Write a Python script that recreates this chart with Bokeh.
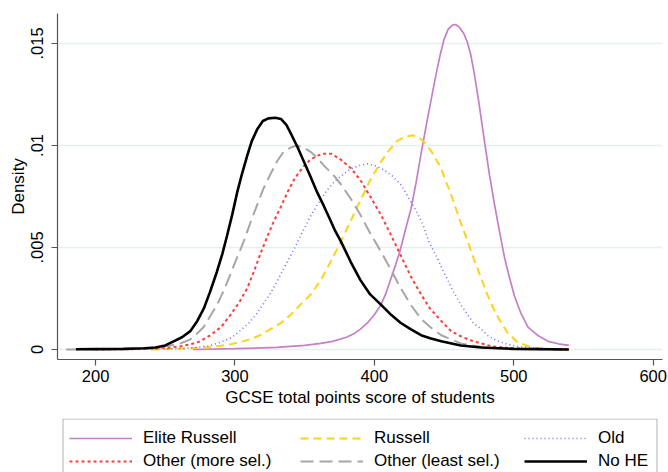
from bokeh.plotting import figure
from bokeh.layouts import column
from bokeh.models import Legend, LegendItem, FixedTicker, Range1d, BoxAnnotation
from bokeh.embed import file_html
from bokeh.resources import INLINE

# ---- data (GCSE score, density) ----
elite_x = [270, 300, 330, 350, 361.5, 370, 380, 386, 390, 395, 400, 404.7, 408, 411, 414.5, 418.3, 422,
           426.3, 430, 433.5, 437, 440.6, 444, 447.4, 450, 453, 456, 458.2, 461, 464, 466.5, 469, 471.5,
           475, 479, 482.5, 486.2, 490, 493.4, 497, 500.6, 505, 510.2, 517, 524.6, 532, 539.5]
elite_y = [0.0, 0.00004, 0.0001, 0.0002, 0.0003, 0.0004, 0.0006, 0.0008, 0.0010, 0.0013, 0.0017, 0.0022,
           0.0027, 0.0033, 0.0040, 0.0048, 0.0058, 0.0069, 0.0082, 0.0096, 0.0109, 0.0122, 0.0134, 0.0145,
           0.0152, 0.0157, 0.0159, 0.01593, 0.0158, 0.0155, 0.0151, 0.0145, 0.0136, 0.0121, 0.0102, 0.0086,
           0.0071, 0.0057, 0.0045, 0.0035, 0.0026, 0.0018, 0.0011, 0.0007, 0.0004, 0.00028, 0.0002]

russell_x = [240, 265, 279.5, 290, 296.8, 304, 311, 318, 325.5, 333, 340, 347, 354.4, 361.5, 368.7, 376,
             383, 390, 397, 404.7, 411, 416, 421, 427.5, 432, 436.7, 441, 447.8, 451, 455, 458.5, 462, 467,
             471, 476.6, 481, 486.2, 491, 495.8, 502, 510, 520, 539.5]
russell_y = [0.0, 0.00005, 0.0001, 0.00018, 0.00025, 0.00037, 0.0005, 0.0007, 0.0010, 0.0013, 0.0017,
             0.0022, 0.0027, 0.0034, 0.0043, 0.0053, 0.0063, 0.0073, 0.0083, 0.0092, 0.0098, 0.0102, 0.0104,
             0.0105, 0.0104, 0.0101, 0.0097, 0.0089, 0.0083, 0.0076, 0.0069, 0.0062, 0.0053, 0.0045, 0.0035,
             0.0027, 0.0019, 0.0013, 0.0008, 0.0004, 0.00016, 0.00005, 0.0]

old_x = [220, 250, 265, 272, 280, 285, 290, 295, 300, 305, 310, 315, 320, 325, 330, 336, 343, 348, 354,
         360, 366, 371, 376, 382, 388, 395, 401, 407, 413, 418.8, 424, 430, 435, 439, 445, 449, 452.7, 457,
         462, 467, 471, 476.6, 481, 486, 491, 496, 503, 510, 525, 539.5]
old_y = [0.0, 0.00003, 0.00006, 0.0001, 0.00016, 0.00025, 0.00037, 0.0005, 0.0007, 0.0010, 0.0013, 0.0017,
         0.0022, 0.0027, 0.0033, 0.0041, 0.0050, 0.0057, 0.0065, 0.0072, 0.0078, 0.0082, 0.0085, 0.0088,
         0.0090, 0.0091, 0.0090, 0.0088, 0.0085, 0.0081, 0.0075, 0.0068, 0.0061, 0.0053, 0.0045, 0.0039,
         0.0034, 0.0028, 0.0022, 0.0017, 0.0013, 0.0010, 0.0007, 0.0005, 0.00035, 0.00025, 0.00015, 0.0001,
         0.00003, 0.0]

more_x = [200, 230, 245, 253.6, 261, 268, 275, 282.4, 290, 296.8, 303, 308.8, 313.5, 318.3, 323, 328, 333,
          337.6, 343, 349.5, 354, 359, 364, 369, 376, 383, 390, 397, 404.7, 412, 419, 426, 433.5, 440, 448,
          455, 462, 469, 476.6, 484, 500, 539.5]
more_y = [0.0, 0.00002, 0.00006, 0.0001, 0.00016, 0.00025, 0.0004, 0.0007, 0.0011, 0.0017, 0.0023, 0.0030,
          0.0038, 0.0047, 0.0055, 0.0063, 0.0070, 0.0077, 0.0084, 0.0090, 0.0093, 0.0095, 0.0096, 0.0096,
          0.0093, 0.0089, 0.0083, 0.0075, 0.0066, 0.0056, 0.0046, 0.0036, 0.0027, 0.0020, 0.0014, 0.0009,
          0.00065, 0.00045, 0.0003, 0.00016, 0.00005, 0.0]

least_x = [179, 200, 230, 245, 253.6, 261, 268, 273, 277.6, 282, 287.2, 292, 296.8, 301.5, 306.3, 311, 316,
           320.5, 325.5, 330, 335, 340, 344.7, 349, 354, 359, 364, 370, 376, 383, 390, 397, 404.7, 412, 419,
           426, 433.5, 440, 448, 455, 462, 470, 480, 500, 539.5]
least_y = [0.0, 0.00001, 0.00003, 0.0001, 0.0002, 0.0003, 0.0005, 0.0008, 0.0011, 0.0016, 0.0022, 0.0029,
           0.0037, 0.0045, 0.0053, 0.0062, 0.0071, 0.0079, 0.0086, 0.0092, 0.0097, 0.0099, 0.0100, 0.0099,
           0.0097, 0.0094, 0.0090, 0.0086, 0.0081, 0.0074, 0.0066, 0.0057, 0.0048, 0.0039, 0.0030, 0.0022,
           0.0015, 0.0011, 0.0007, 0.0005, 0.0003, 0.0002, 0.0001, 0.00003, 0.0]

nohe_x = [186, 200, 220, 235, 243, 250, 256, 262, 268, 273, 277.6, 282, 287, 291, 294.4, 298, 301.6, 305,
          308.8, 312, 316, 320, 324, 329, 333, 337, 340, 345, 349.5, 354, 359, 364, 368.7, 372, 376, 383,
          390, 397, 404.7, 412, 419, 426, 433.5, 440, 448, 462, 476.6, 500, 539.5]
nohe_y = [0.00001, 0.00002, 0.00003, 0.00006, 0.0001, 0.0002, 0.0004, 0.0006, 0.0009, 0.0014, 0.0020,
          0.0028, 0.0038, 0.0047, 0.0056, 0.0066, 0.0077, 0.0086, 0.0095, 0.0102, 0.0108, 0.0112, 0.01133,
          0.01136, 0.0113, 0.0110, 0.0106, 0.0099, 0.0092, 0.0085, 0.0077, 0.0070, 0.0063, 0.0058, 0.0053,
          0.0043, 0.0034, 0.0027, 0.0022, 0.0017, 0.0013, 0.0010, 0.0007, 0.00055, 0.0004, 0.0002, 0.0001,
          0.00003, 0.0]

labels = ["Elite Russell", "Russell", "Old", "Other (more sel.)", "Other (least sel.)", "No HE"]
x_ticks = [200, 300, 400, 500, 600]
y_ticks = [0, 0.005, 0.01, 0.015]
y_tick_labels = ["0", ".005", ".01", ".015"]

FONT = "Liberation Sans"

styles = [
    dict(line_color="#c47fc8", line_width=1.7, line_dash="solid"),
    dict(line_color="#ffd21a", line_width=2, line_dash="8 5"),
    dict(line_color="#6e6eff", line_width=1.6, line_dash="1 3"),
    dict(line_color="#ff3c3c", line_width=2, line_dash="3 3"),
    dict(line_color="#a6a6a6", line_width=2, line_dash="13 6"),
    dict(line_color="#000000", line_width=2.6, line_dash="solid"),
]
series = [(elite_x, elite_y), (russell_x, russell_y), (old_x, old_y),
          (more_x, more_y), (least_x, least_y), (nohe_x, nohe_y)]

p = figure(width=668, height=418, output_backend="svg", toolbar_location=None,
           x_range=Range1d(172.7, 606.7), y_range=Range1d(-0.00049, 0.016469),
           min_border_left=57, min_border_right=6, min_border_top=13, min_border_bottom=59,
           x_axis_label="GCSE total points score of students", y_axis_label="Density")
p.outline_line_color = None
p.background_fill_color = "white"
p.border_fill_color = "white"

for (xs, ys), st in zip(series, styles):
    p.line(xs, ys, **st)

for ax in (p.xaxis[0], p.yaxis[0]):
    ax.axis_line_color = "#555555"
    ax.axis_line_width = 1.2
    ax.major_tick_line_color = "#555555"
    ax.major_tick_line_width = 1.2
    ax.major_tick_out = 6
    ax.major_tick_in = 0
    ax.minor_tick_line_color = None
    ax.major_label_text_font = FONT
    ax.major_label_text_font_size = "16.5px"
    ax.major_label_text_color = "black"
    ax.axis_label_text_font = FONT
    ax.axis_label_text_font_size = "17px"
    ax.axis_label_text_font_style = "normal"
    ax.axis_label_text_color = "black"

p.xaxis[0].ticker = FixedTicker(ticks=x_ticks)
p.xaxis[0].major_label_standoff = 4
p.xaxis[0].axis_label_standoff = 3
p.yaxis[0].ticker = FixedTicker(ticks=y_ticks)
p.yaxis[0].major_label_overrides = {t: l for t, l in zip(y_ticks, y_tick_labels)}
p.yaxis[0].major_label_orientation = "vertical"
p.yaxis[0].major_label_standoff = 8
p.yaxis[0].axis_label_standoff = 1

p.xgrid.grid_line_color = None
p.ygrid.grid_line_color = "#e6eef0"
p.ygrid.grid_line_width = 1.5
p.ygrid.ticker = FixedTicker(ticks=y_ticks)

# legend strip below the plot (frame lines up with the plot's frame: 605 x 54 px).
# Its x range lies left of every series, so the key renderers themselves stay hidden.
q = figure(width=668, height=54, output_backend="svg", toolbar_location=None, title=None,
           x_range=Range1d(-605, 0), y_range=Range1d(54, 0),
           min_border_left=0, min_border_right=0, min_border_top=0, min_border_bottom=0,
           x_axis_type=None, y_axis_type=None)
q.outline_line_color = None
q.xgrid.grid_line_color = None
q.ygrid.grid_line_color = None
q.background_fill_color = "white"
q.border_fill_color = "white"
keys = [q.line(xs, ys, **st) for (xs, ys), st in zip(series, styles)]

# legend frame (kept inside the strip; its bottom edge sits on the page's bottom edge)
q.add_layout(BoxAnnotation(left=-599.5, right=-5.5, top=0.5, bottom=54,
                           fill_alpha=0, line_color="black", line_width=1))

# three legend columns (rows read as in the reference)
columns_items = [[0, 3], [1, 4], [2, 5]]
column_x = [12, 243, 467]
for idx, vx in zip(columns_items, column_x):
    lg = Legend(items=[LegendItem(label=labels[i], renderers=[keys[i]]) for i in idx],
                location=(vx, 0))
    lg.label_text_font = FONT
    lg.label_text_font_size = "17px"
    lg.label_text_color = "black"
    lg.glyph_width = 63
    lg.glyph_height = 22
    lg.label_height = 22
    lg.label_width = 0
    lg.label_standoff = 11
    lg.spacing = 1
    lg.padding = 0
    lg.margin = 0
    lg.border_line_color = None
    lg.background_fill_alpha = 0
    q.add_layout(lg, "center")

layout = column(p, q, spacing=0)
open("out.html", "w").write(file_html(layout, INLINE))
